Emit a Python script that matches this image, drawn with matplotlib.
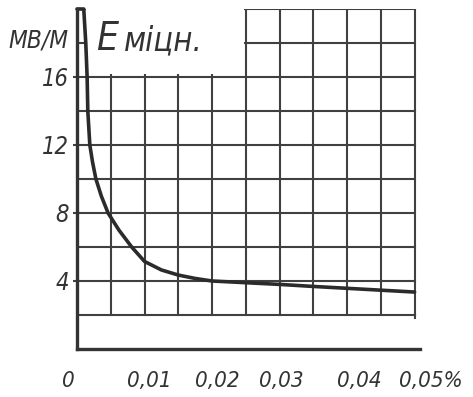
import numpy as np
import matplotlib
matplotlib.use("Agg")
import matplotlib.pyplot as plt
from matplotlib.patches import Rectangle
from matplotlib import transforms

# curve: concentration (%) vs strength (MV/m)
conc = [0, 0.001, 0.0013, 0.0015, 0.0016, 0.0019, 0.0023, 0.0028, 0.0036, 0.0046,
        0.0062, 0.0081, 0.01, 0.0125, 0.015, 0.0175, 0.02,
        0.025, 0.03, 0.035, 0.04, 0.045, 0.05]
e_str = [20, 20, 18, 16, 14, 12, 11, 10, 9, 8,
         7, 6, 5.15, 4.65, 4.35, 4.15, 4.0,
         3.9, 3.8, 3.68, 3.57, 3.46, 3.35]

x_ticks = [0, 0.01, 0.02, 0.03, 0.04, 0.05]
x_labels = ["0", "0,01", "0,02", "0,03", "0,04", "0,05%"]
y_ticks = [4, 8, 12, 16]
y_labels = ["4", "8", "12", "16"]

grid_x = np.arange(1, 11) * 0.005
grid_y = np.arange(1, 11) * 2.0

font = dict(family="DejaVu Sans", stretch="condensed", style="oblique", color="#333333")
ink = "#404040"

fig = plt.figure(figsize=(4.73, 3.97), dpi=100)
ax = fig.add_axes([77 / 473, 48 / 397, 343 / 473, 340 / 397])
ax.set_xlim(0, 0.0508)
ax.set_ylim(0, 20)

# grid (squared paper only above y=2)
for y in grid_y:
    ax.plot([0, 0.05], [y, y], color=ink, lw=1.5, zorder=1)
for x in grid_x:
    ax.plot([x, x], [2, 20], color=ink, lw=1.5, zorder=1)
ax.plot([0.05, 0.05], [1.8, 2], color=ink, lw=1.5, zorder=1)

# white patch behind the title
ax.add_patch(Rectangle((0.0013, 16.15), 0.0235, 5, facecolor="white",
                       edgecolor="none", zorder=2, clip_on=False))

ax.plot(conc, e_str, color="#2b2b2b", lw=2.6, zorder=4, clip_on=False,
        solid_capstyle="round", solid_joinstyle="round")

for s in ["top", "right"]:
    ax.spines[s].set_visible(False)
ax.spines["left"].set_linewidth(2.4)
ax.spines["bottom"].set_linewidth(2.4)
ax.spines["left"].set_color("#333333")
ax.spines["bottom"].set_color("#333333")
ax.spines["left"].set_zorder(5)

ax.set_yticks(y_ticks)
ax.set_yticklabels(y_labels, fontsize=17, **font)
ax.tick_params(axis="y", length=3, width=1.5, pad=3, color=ink)
ax.set_xticks([])

# x labels, nudged a little like the hand lettering
nudge = [-9, 5, 5, 2, 12, 16]
for x, lab, dx in zip(x_ticks, x_labels, nudge):
    tr = ax.get_xaxis_transform() + transforms.ScaledTranslation(dx / 100, 0, fig.dpi_scale_trans)
    ax.text(x, -0.095, lab, transform=tr, ha="center", va="center", fontsize=16, **font)

# unit and title
fig.text(69 / 473, 1 - 40 / 397, "МВ/М", ha="right", va="center", fontsize=17.5, **font)
fig.text(96 / 473, 1 - 50 / 397, "E", ha="left", va="baseline", fontsize=28, **font)
fig.text(124 / 473, 1 - 50 / 397, "міцн.", ha="left", va="baseline", fontsize=23.5, **font)

fig.savefig("out.png", dpi=100, facecolor="white")
